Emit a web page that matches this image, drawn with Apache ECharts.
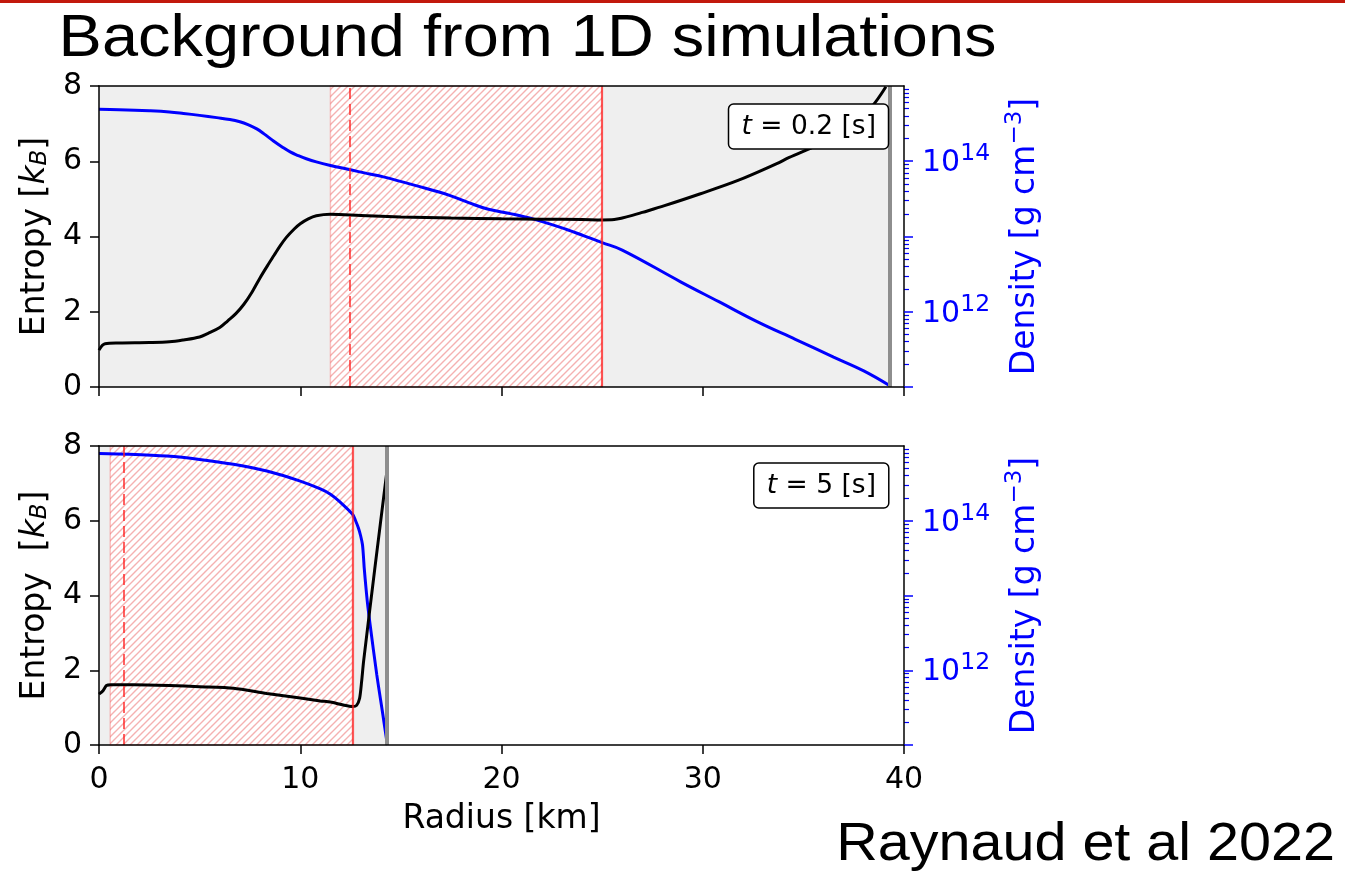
<!DOCTYPE html>
<html><head><meta charset="utf-8">
<script src="https://cdn.jsdelivr.net/npm/echarts@6/dist/echarts.min.js"></script>
<style>html,body{margin:0;padding:0;background:#fff}#c{width:1345px;height:874px}</style>
</head><body><div id="c"></div>
<script>
// ---------- data ----------
// Top panel: t = 0.2 s
const radiusTopS = [0,0.3,1.0,2.5,3.5,4.2,5.0,5.4,6.0,6.4,6.8,7.2,7.6,8.0,8.4,8.7,9.0,9.3,9.7,10.0,10.4,10.8,11.5,13,15,17.5,20,22,24,25,25.6,26.0,26.5,27.0,28.1,29.85,31.75,33.65,34.3,35.5,36.5,37.5,38.4,39.1];
const entropyTop = [0.98,1.15,1.17,1.18,1.2,1.25,1.33,1.42,1.58,1.76,1.95,2.2,2.52,2.9,3.25,3.5,3.75,3.97,4.2,4.34,4.47,4.55,4.59,4.56,4.52,4.49,4.47,4.46,4.45,4.44,4.45,4.49,4.56,4.64,4.82,5.13,5.49,5.93,6.1,6.38,6.65,7.0,7.45,7.98];
const radiusTopD = [0,1.0,2.5,3.5,4.2,5.0,5.85,6.5,7.0,7.4,7.84,8.2,8.67,9.1,9.5,9.9,10.3,10.8,11.5,12.5,13.3,14.13,15.8,17.45,18.4,19.35,20.5,21.6,23.2,24.1,25.0,26.0,28.9,30.8,32.7,34.6,36.5,38.0,39.3];
const densityTop = [4.90e14,4.84e14,4.68e14,4.52e14,4.32e14,4.07e14,3.80e14,3.59e14,3.35e14,3.07e14,2.69e14,2.31e14,1.86e14,1.55e14,1.33e14,1.19e14,1.08e14,9.8e13,8.8e13,7.7e13,6.9e13,6.2e13,4.7e13,3.5e13,2.8e13,2.3e13,2.0e13,1.7e13,1.25e13,1.02e13,8.3e12,6.6e12,2.5e12,1.36e12,7.4e11,4.3e11,2.5e11,1.64e11,1.04e11];
// Bottom panel: t = 5 s
const radiusBotS = [0,0.2,0.37,0.6,1.7,3.5,5.0,6.68,8.34,10.0,11.0,11.5,12.14,12.6,12.8,12.95,13.05,13.15,13.7,14.3];
const entropyBot = [1.36,1.45,1.59,1.61,1.61,1.59,1.56,1.52,1.38,1.26,1.18,1.15,1.07,1.03,1.06,1.25,1.7,2.25,4.7,7.3];
const radiusBotD = [0,1.5,3.36,5.0,6.68,8.34,10.0,11.0,11.5,12.0,12.6,12.75,12.89,13.0,13.09,13.14,13.18,13.33,13.47,13.8,14.1,14.33];
const densityBot = [7.94e14,7.76e14,7.33e14,6.61e14,5.69e14,4.62e14,3.39e14,2.66e14,2.26e14,1.76e14,1.22e14,1.0e14,8.0e13,6.3e13,4.8e13,3.35e13,2.3e13,8.4e12,4.1e12,8.8e11,2.6e11,1.0e11];

// region boundaries [km]
const greyTop = [0, 39.3], hatchTop = [11.5, 25.0], dashedTop = 12.45, solidTop = 25.0, edgeTop = 39.3;
const greyBot = [0, 14.3], hatchBot = [0.56, 12.6], dashedBot = 1.25, solidBot = 12.6, edgeBot = 14.3;

// axes / ticks
const radiusTicks = [0, 10, 20, 30, 40];
const entropyTicks = [0, 2, 4, 6, 8];
const densityMajor = [1e11, 1e12, 1e13, 1e14, 1e15];
const densityLabelled = [1e12, 1e14];
const minorMult = [2, 3, 4, 5, 6, 7, 8, 9];
const densityMinor = [];
[1e11, 1e12, 1e13, 1e14].forEach(d => minorMult.forEach(m => densityMinor.push(m * d)));
const labelTop = '0.2 [s]', labelBot = '5 [s]';

// ---------- helpers ----------
const zip = (xs, ys) => xs.map((x, i) => [x, ys[i]]);
function hatchPattern() {
  const s = 7, c = document.createElement('canvas');
  c.width = s; c.height = s;
  const g = c.getContext('2d');
  g.fillStyle = '#ffffff'; g.fillRect(0, 0, s, s);
  g.strokeStyle = '#f5b1b1'; g.lineWidth = 1.4;
  g.beginPath();
  g.moveTo(0, s); g.lineTo(s, 0);
  g.moveTo(-1, 1); g.lineTo(1, -1);
  g.moveTo(s - 1, s + 1); g.lineTo(s + 1, s - 1);
  g.stroke();
  return c;
}
const hatch = { image: hatchPattern(), repeat: 'repeat' };
const FONT = 'DejaVu Sans';
const BLUE = '#0000ff';
const RED = 'rgba(255,30,30,0.7)';

const panelRects = [
  { left: 99, top: 86, width: 805, height: 301 },
  { left: 99, top: 446, width: 805, height: 299 }
];
// grids 0,1: data panels; grids 2,3: overlays carrying the minor log ticks
const grids = [0, 1, 0, 1].map(i => Object.assign({}, panelRects[i], { containLabel: false, outerBoundsMode: 'none' }));

function xAxisBottom(gi, showLabels) {
  return {
    gridIndex: gi, type: 'value', min: 0, max: 40, interval: 10, position: 'bottom', z: 10,
    axisLine: { show: true, onZero: false, lineStyle: { color: '#000', width: 1.5 } },
    axisTick: { show: true, length: 9, customValues: radiusTicks, lineStyle: { color: '#000', width: 1.5 } },
    axisLabel: { show: showLabels, customValues: radiusTicks, margin: 20, color: '#000', fontSize: 30, fontFamily: FONT },
    splitLine: { show: false },
    name: showLabels ? 'Radius [km]' : '', nameLocation: 'middle', nameGap: 58,
    nameTextStyle: { color: '#000', fontSize: 33, fontFamily: FONT }
  };
}
function xAxisTop(gi) {
  return {
    gridIndex: gi, type: 'value', min: 0, max: 40, position: 'top', z: 10,
    axisLine: { show: true, onZero: false, lineStyle: { color: '#000', width: 1.5 } },
    axisTick: { show: false }, axisLabel: { show: false }, splitLine: { show: false }
  };
}
function xAxisHidden(gi) {
  return { gridIndex: gi, type: 'value', min: 0, max: 40, show: false, axisLine: { onZero: false } };
}
function entropyAxis(gi, nameText) {
  return {
    gridIndex: gi, type: 'value', min: 0, max: 8, interval: 2, position: 'left', z: 10,
    axisLine: { show: true, onZero: false, lineStyle: { color: '#000', width: 1.5 } },
    axisTick: { show: true, length: 9, customValues: entropyTicks, lineStyle: { color: '#000', width: 1.5 } },
    axisLabel: { customValues: entropyTicks, margin: 17, color: '#000', fontSize: 30, fontFamily: FONT },
    splitLine: { show: false },
    name: nameText, nameLocation: 'middle', nameRotate: 90, nameGap: 46,
    nameTextStyle: {
      color: '#000', fontSize: 33, fontFamily: FONT,
      rich: {
        a: { fontSize: 33, fontFamily: FONT, color: '#000', lineHeight: 40, verticalAlign: 'bottom' },
        k: { fontSize: 33, fontFamily: FONT, fontStyle: 'italic', color: '#000', lineHeight: 40, verticalAlign: 'bottom' },
        b: { fontSize: 23, fontFamily: FONT, fontStyle: 'italic', color: '#000', lineHeight: 23, verticalAlign: 'bottom' }
      }
    }
  };
}
function densityAxis(gi) {
  return {
    gridIndex: gi, type: 'log', logBase: 10, min: 1e11, max: 1e15, position: 'right', z: 10,
    axisLine: { show: true, onZero: false, lineStyle: { color: '#000', width: 1.5 } },
    axisTick: { show: true, length: 9, customValues: densityMajor, lineStyle: { color: BLUE, width: 1.5 } },
    axisLabel: {
      customValues: densityLabelled, margin: 18,
      formatter: v => '{b|10}{s|' + Math.round(Math.log10(v)) + '}',
      rich: {
        b: { fontSize: 30, fontFamily: FONT, color: BLUE, lineHeight: 34, verticalAlign: 'bottom' },
        s: { fontSize: 23.5, fontFamily: FONT, color: BLUE, lineHeight: 24, verticalAlign: 'bottom', padding: [0, 0, 12, 0] }
      }
    },
    splitLine: { show: false },
    name: '{a|Density [g cm}{s|−3}{a|]}', nameLocation: 'middle', nameRotate: 90, nameGap: 98,
    nameTextStyle: {
      color: BLUE, fontSize: 33, fontFamily: FONT,
      rich: {
        a: { fontSize: 33, fontFamily: FONT, color: BLUE, lineHeight: 40, verticalAlign: 'bottom' },
        s: { fontSize: 23, fontFamily: FONT, color: BLUE, lineHeight: 23, verticalAlign: 'bottom', padding: [0, 0, 15, 0] }
      }
    }
  };
}
function densityMinorAxis(gi) {
  return {
    gridIndex: gi, type: 'log', logBase: 10, min: 1e11, max: 1e15, position: 'right', z: 9,
    axisLine: { show: false, onZero: false },
    axisTick: { show: true, length: 5, customValues: densityMinor, lineStyle: { color: BLUE, width: 1.2 } },
    axisLabel: { show: false }, splitLine: { show: false }
  };
}

function backgroundSeries(xi, yi, grey, hatchR, dashed, solid, edge) {
  return [{
    type: 'line', xAxisIndex: xi, yAxisIndex: yi, data: [], z: 1, silent: true,
    markArea: {
      silent: true,
      label: { show: false },
      data: [
        [{ xAxis: grey[0], itemStyle: { color: '#efefef', borderWidth: 0 } }, { xAxis: grey[1] }],
        [{ xAxis: hatchR[0], itemStyle: { color: hatch, borderColor: 'rgba(255,0,0,0.22)', borderWidth: 1.5 } }, { xAxis: hatchR[1] }]
      ]
    }
  }, {
    type: 'line', xAxisIndex: xi, yAxisIndex: yi, data: [], z: 2, silent: true,
    markLine: {
      silent: true, symbol: ['none', 'none'], label: { show: false },
      data: [
        { xAxis: dashed, lineStyle: { color: RED, width: 2, type: [11, 5] } },
        { xAxis: solid, lineStyle: { color: RED, width: 2.2, type: 'solid' } },
        { xAxis: edge, lineStyle: { color: '#8e8e8e', width: 4, type: 'solid' } }
      ]
    }
  }];
}
function curve(xi, yi, data, color, z, smooth) {
  return {
    type: 'line', xAxisIndex: xi, yAxisIndex: yi, data, z,
    showSymbol: false, symbol: 'none', smooth,
    lineStyle: { color, width: 3 }, clip: true
  };
}
function boxTitle(text, top) {
  return {
    text: '{i|t}{n| = ' + text + '}', right: 456, top,
    padding: [10, 13, 9, 13], borderColor: '#000', borderWidth: 1.5, borderRadius: 5,
    backgroundColor: '#fff',
    textStyle: {
      fontWeight: 'normal',
      rich: {
        i: { fontSize: 26.5, fontFamily: FONT, fontStyle: 'italic', fontWeight: 'normal', color: '#000', lineHeight: 30 },
        n: { fontSize: 26.5, fontFamily: FONT, fontWeight: 'normal', color: '#000', lineHeight: 30 }
      }
    }
  };
}

const option = {
  animation: false,
  backgroundColor: '#fff',
  grid: grids,
  title: [boxTitle(labelTop, 102), boxTitle(labelBot, 461)],
  xAxis: [xAxisBottom(0, false), xAxisBottom(1, true), xAxisTop(0), xAxisTop(1), xAxisHidden(2), xAxisHidden(3)],
  yAxis: [
    entropyAxis(0, '{a|Entropy [}{k|k}{b|B}{a|]}'),
    densityAxis(0),
    entropyAxis(1, '{a|Entropy  [}{k|k}{b|B}{a|]}'),
    densityAxis(1),
    densityMinorAxis(2),
    densityMinorAxis(3)
  ],
  series: [
    ...backgroundSeries(0, 0, greyTop, hatchTop, dashedTop, solidTop, edgeTop),
    curve(0, 1, zip(radiusTopD, densityTop), BLUE, 3, 0.4),
    curve(0, 0, zip(radiusTopS, entropyTop), '#000', 4, 0.35),
    ...backgroundSeries(1, 2, greyBot, hatchBot, dashedBot, solidBot, edgeBot),
    curve(1, 3, zip(radiusBotD, densityBot), BLUE, 3, 0.3),
    curve(1, 2, zip(radiusBotS, entropyBot), '#000', 4, 0.25)
  ],
  graphic: [
    { type: 'rect', shape: { x: 0, y: 0, width: 1345, height: 3 }, style: { fill: '#c2180c' }, z: 100 },
    { type: 'text', x: 58.6, y: 39.5, scaleX: 1.1, z: 100,
      style: { text: 'Background from 1D simulations', font: '59px "Liberation Sans", Arial, sans-serif', fill: '#000',
               align: 'left', verticalAlign: 'middle', textAlign: 'left', textVerticalAlign: 'middle' } },
    { type: 'text', x: 1335, y: 845, scaleX: 1.065, z: 100,
      style: { text: 'Raynaud et al 2022', font: '54px "Liberation Sans", Arial, sans-serif', fill: '#000',
               align: 'right', verticalAlign: 'middle', textAlign: 'right', textVerticalAlign: 'middle' } }
  ]
};
const chart = echarts.init(document.getElementById('c'), null, { renderer: 'canvas', width: 1345, height: 874 });
chart.setOption(option);
</script>
</body></html>
